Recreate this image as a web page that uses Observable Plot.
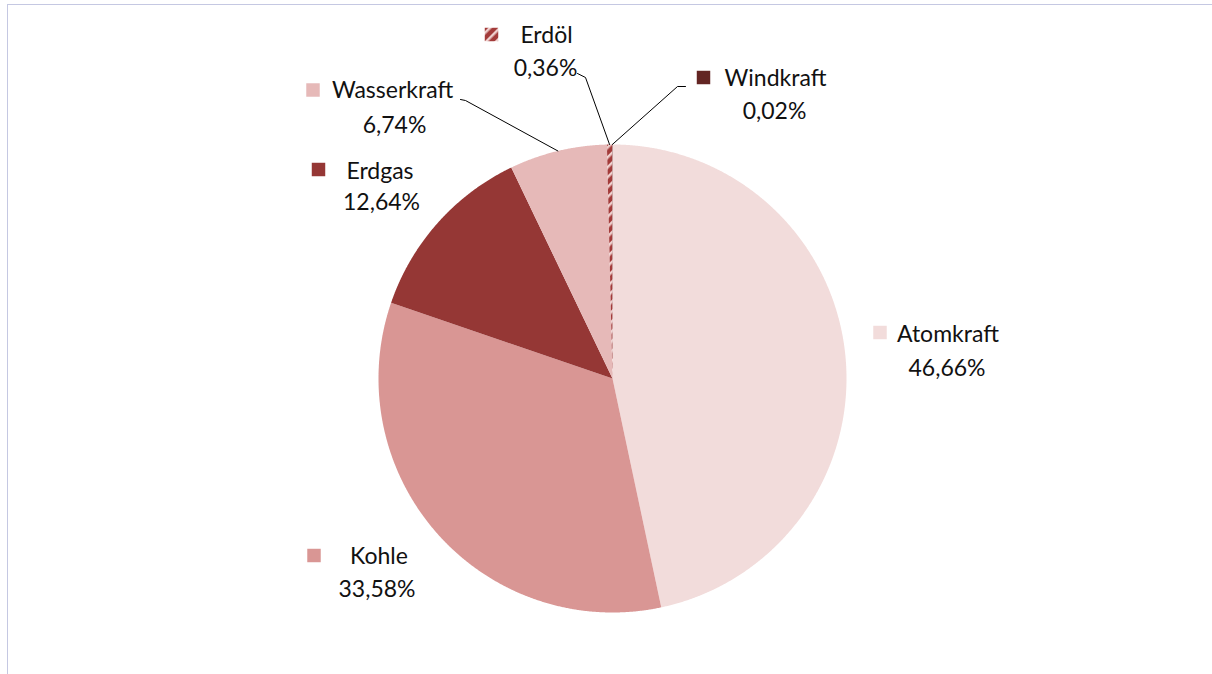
<!DOCTYPE html>
<html><head><meta charset="utf-8">
<script src="https://cdn.jsdelivr.net/npm/d3@7"></script>
<script src="https://cdn.jsdelivr.net/npm/@observablehq/plot@0.6"></script>
<style>
html,body{margin:0;padding:0;background:#fff;overflow:hidden;}
#wrap{position:relative;width:1212px;height:674px;}
#frame{position:absolute;left:7px;top:4px;width:1300px;height:800px;border-left:1px solid #c5c8e2;border-top:1px solid #c5c8e2;}
#chart{position:absolute;left:0;top:0;}
</style></head><body>
<div id="wrap"><div id="frame"></div><div id="chart"></div></div>
<script>
// ---- data ----
const categories = ["Atomkraft", "Kohle", "Erdgas", "Wasserkraft", "Erdöl", "Windkraft"];
const shares = [46.66, 33.58, 12.64, 6.74, 0.36, 0.02];

// ---- styles ----
const colors = ["#f2dcdb", "#d99694", "#953735", "#e6b9b8", "url(#erdoel-stripes)", "#632523"];
const FONT = "Lato, 'Open Sans', sans-serif";

// ---- layout (pixels relative to the pie centre) ----
const W = 1212, H = 674, CX = 612, CY = 378, R = 234;
const nameOffsets   = [[335.5, -44], [-233.5, 178], [-232.5, -207], [-220, -288], [-66, -343], [163, -300]];
const pctOffsets    = [[334.5, -10], [-235.5, 211], [-231, -176], [-218, -253], [-67, -310], [162, -267]];
const markerOffsets = [[267.5, -46], [-298.5, 177], [-294, -209], [-299.5, -288.5], [-121, -344], [91, -301]];
const leaderBends   = [null, null, null,
  [[-147, -278], [-152, -279]],
  [[-27, -301], [-35, -305]],
  [[65, -292], [73, -292]]];

// ---- derived ----
const arcs = d3.pie().sort(null).value(d => d)(shares);
const polar = a => [Math.sin(a), -Math.cos(a)];

const slicePoints = [];
arcs.forEach((a, i) => {
  const n = Math.max(2, Math.ceil((a.endAngle - a.startAngle) / 0.004));
  slicePoints.push({name: categories[i], fill: colors[i], x: 0, y: 0});
  for (let k = 0; k <= n; k++) {
    const t = a.startAngle + (a.endAngle - a.startAngle) * k / n;
    const [x, y] = polar(t);
    slicePoints.push({name: categories[i], fill: colors[i], x, y});
  }
});

const fmt = v => v.toFixed(2).replace(".", ",") + "%";
const labels = categories.map((c, i) => ({
  name: c, pct: fmt(shares[i]), fill: colors[i],
  nx: nameOffsets[i][0] / R, ny: nameOffsets[i][1] / R,
  px: pctOffsets[i][0] / R, py: pctOffsets[i][1] / R,
  mx: markerOffsets[i][0] / R, my: markerOffsets[i][1] / R
}));

const leaders = [];
arcs.forEach((a, i) => {
  if (!leaderBends[i]) return;
  const mid = (a.startAngle + a.endAngle) / 2;
  const [x, y] = polar(mid);
  leaders.push({name: categories[i], x, y});
  leaderBends[i].forEach(([bx, by]) => leaders.push({name: categories[i], x: bx / R, y: by / R}));
});

const plot = Plot.plot({
  width: W, height: H,
  margin: 0,
  style: {background: "transparent", overflow: "visible"},
  x: {domain: [-CX / R, (W - CX) / R], range: [0, W], axis: null},
  y: {domain: [-CY / R, (H - CY) / R], range: [0, H], axis: null},
  color: {type: "identity"},
  marks: [
    Plot.line(slicePoints, {x: "x", y: "y", z: "name", fill: "fill", stroke: "none", curve: "linear"}),
    Plot.line(leaders, {x: "x", y: "y", z: "name", stroke: "#000", strokeWidth: 1}),
    Plot.dot(labels, {x: "mx", y: "my", symbol: "square", r: 7.6, fill: "fill", stroke: "none"}),
    Plot.text(labels, {x: "nx", y: "ny", text: "name", fontSize: 23, fontFamily: FONT, fill: "#111", textAnchor: "middle"}),
    Plot.text(labels, {x: "px", y: "py", text: "pct", fontSize: 23, fontFamily: FONT, fill: "#111", textAnchor: "middle"})
  ]
});

// striped pattern for Erdöl
const svg = d3.select(plot);
const defs = svg.insert("defs", ":first-child");
const pat = defs.append("pattern").attr("id", "erdoel-stripes")
  .attr("patternUnits", "userSpaceOnUse").attr("width", 7).attr("height", 7)
  .attr("patternTransform", "rotate(45)");
pat.append("rect").attr("width", 7).attr("height", 7).attr("fill", "#a33b3a");
pat.append("rect").attr("width", 2.5).attr("height", 7).attr("fill", "#eecfcd");

document.getElementById("chart").appendChild(plot);
</script>
</body></html>
